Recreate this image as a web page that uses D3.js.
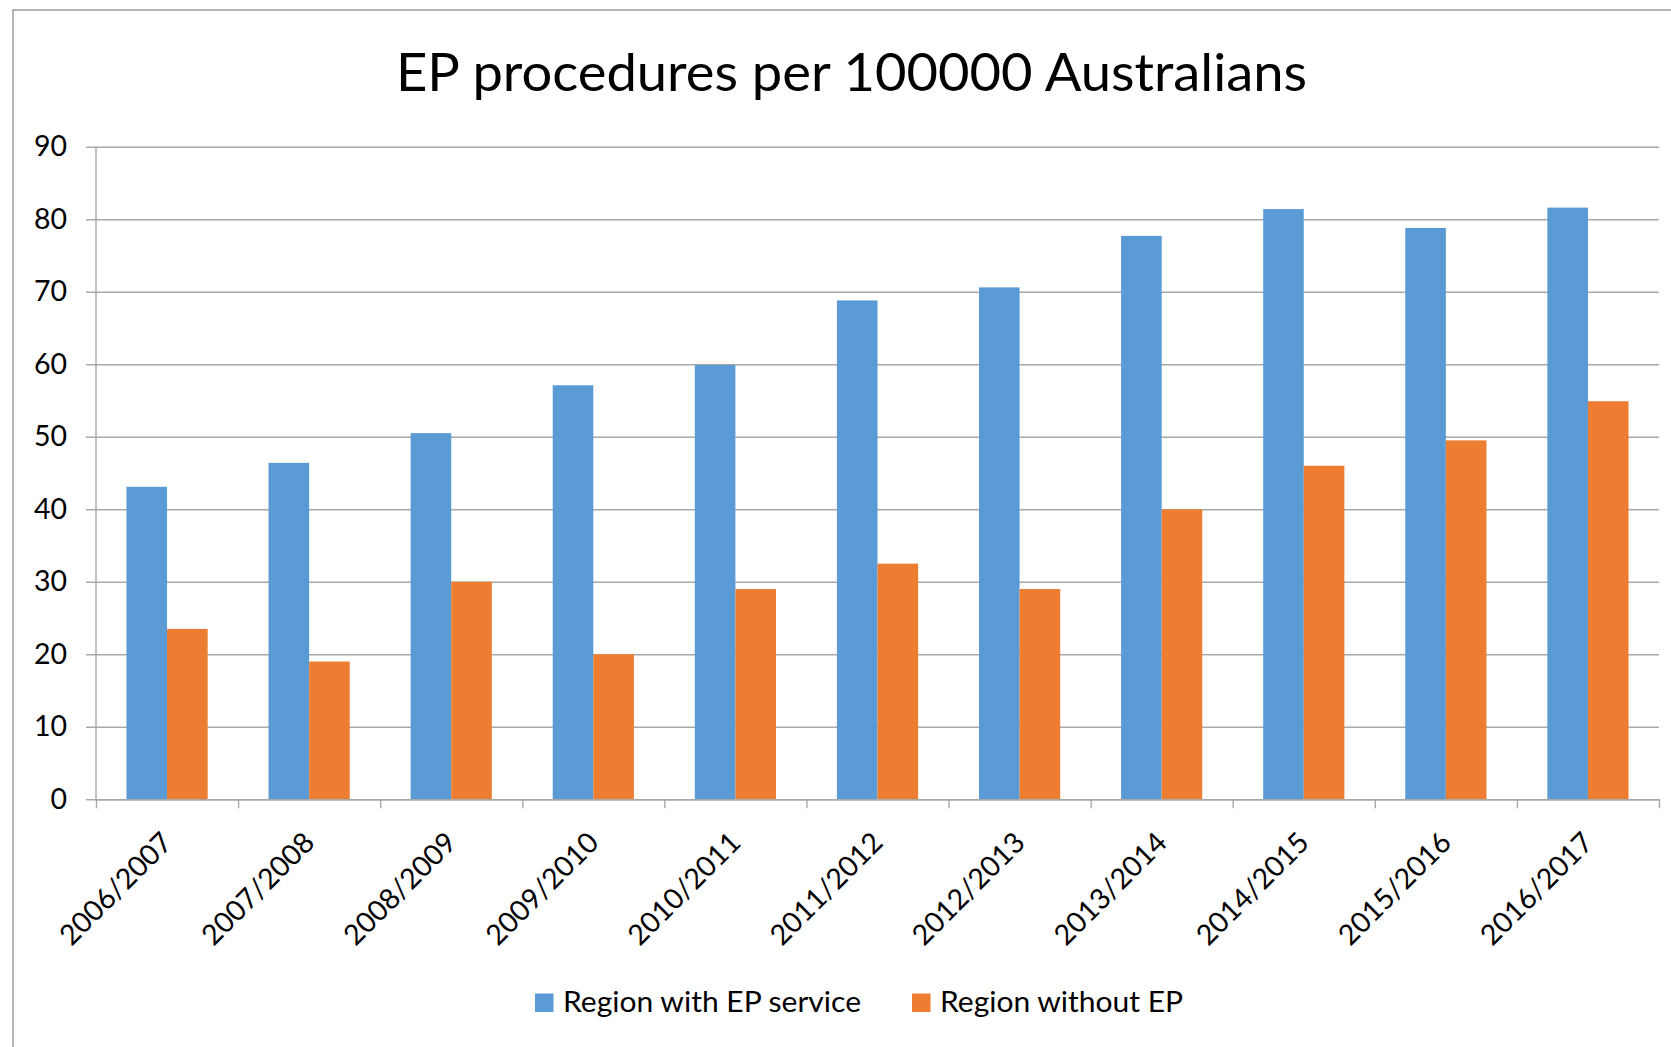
<!DOCTYPE html>
<html>
<head>
<meta charset="utf-8">
<script src="https://cdn.jsdelivr.net/npm/d3@7/dist/d3.min.js"></script>
<style>
  html, body { margin: 0; padding: 0; background: #fff; }
  svg { display: block; }
  text { font-family: Lato, "Open Sans", sans-serif; fill: #000; }
</style>
</head>
<body>
<svg id="chart" width="1671" height="1047"></svg>
<script>
// Financial years shown along the x axis
const categories = ["2006/2007", "2007/2008", "2008/2009", "2009/2010", "2010/2011",
  "2011/2012", "2012/2013", "2013/2014", "2014/2015", "2015/2016", "2016/2017"];

// EP procedures per 100000 people
const withEP    = [43.1, 46.4, 50.5, 57.1, 59.9, 68.8, 70.6, 77.7, 81.4, 78.8, 81.6];
const withoutEP = [23.5, 19.0, 30.0, 20.0, 29.0, 32.5, 29.0, 40.0, 46.0, 49.5, 54.9];

const seriesNames = ["Region with EP service", "Region without EP"];
const yTicks = [0, 10, 20, 30, 40, 50, 60, 70, 80, 90];
const titleText = "EP procedures per 100000 Australians";

const colors = ["#5B9BD5", "#ED7D31"];
const series = [withEP, withoutEP];

const svg = d3.select("#chart");
const W = 1671, H = 1047;

// chart-area frame (runs off the right and bottom edges)
svg.append("rect")
  .attr("x", 13).attr("y", 10)
  .attr("width", W + 20).attr("height", H + 20)
  .attr("fill", "#fff")
  .attr("stroke", "#8e8e8e").attr("stroke-width", 1.3);

const plot = { left: 96, right: 1659, top: 146.7, bottom: 799.3 };

const y = d3.scaleLinear().domain([0, 90]).range([plot.bottom, plot.top]);

// gap width 150% of a bar: band = 2 bars, gap = 1.5 bars
const x = d3.scaleBand().domain(categories)
  .range([plot.left, plot.right])
  .paddingInner(1.5 / 3.5).paddingOuter(0.75 / 3.5);
const xSub = d3.scaleBand().domain([0, 1]).range([0, x.bandwidth()]);

const gridColor = "#a8a8a8";
const tickFont = 28.5;

// horizontal gridlines with outward ticks and value labels
const yAxisG = svg.append("g")
  .attr("transform", `translate(${plot.left - 10},0)`)
  .call(d3.axisLeft(y).tickValues(yTicks)
    .tickSizeInner(-(plot.right - plot.left + 10)).tickSizeOuter(0)
    .tickPadding(19).tickFormat(d3.format("d")));
yAxisG.select(".domain").remove();
yAxisG.selectAll(".tick line").attr("stroke", gridColor).attr("stroke-width", 1.4);
yAxisG.selectAll(".tick text")
  .attr("font-size", tickFont).attr("font-family", "Lato, sans-serif").attr("fill", "#000");

// vertical axis line
svg.append("line")
  .attr("x1", plot.left).attr("x2", plot.left)
  .attr("y1", plot.top).attr("y2", plot.bottom)
  .attr("stroke", gridColor).attr("stroke-width", 1.4);

// bars
const groups = svg.append("g").selectAll("g")
  .data(categories)
  .join("g")
  .attr("transform", d => `translate(${x(d)},0)`);

groups.selectAll("rect")
  .data((d, i) => series.map((s, k) => ({ k, v: s[i] })))
  .join("rect")
  .attr("x", d => xSub(d.k))
  .attr("width", xSub.bandwidth())
  .attr("y", d => y(d.v))
  .attr("height", d => y(0) - y(d.v))
  .attr("fill", d => colors[d.k]);

// category boundary ticks along the bottom axis
const xEdge = d3.scaleLinear().domain([0, categories.length]).range([plot.left, plot.right]);
const xEdgeG = svg.append("g")
  .attr("transform", `translate(0,${plot.bottom})`)
  .call(d3.axisBottom(xEdge).tickValues(d3.range(categories.length + 1))
    .tickFormat("").tickSizeInner(9).tickSizeOuter(0));
xEdgeG.select(".domain").attr("stroke", gridColor).attr("stroke-width", 1.4);
xEdgeG.selectAll(".tick line").attr("stroke", gridColor).attr("stroke-width", 1.4);

// rotated category labels
const xLabG = svg.append("g")
  .attr("transform", `translate(0,${plot.bottom})`)
  .call(d3.axisBottom(x).tickSize(0).tickPadding(0));
xLabG.select(".domain").remove();
xLabG.selectAll(".tick text")
  .attr("font-size", tickFont).attr("font-family", "Lato, sans-serif").attr("fill", "#000")
  .attr("text-anchor", "end")
  .attr("x", 0).attr("y", 0).attr("dy", 0)
  .attr("transform", "translate(7,45) rotate(-45)");

// title
svg.append("text")
  .attr("x", 851.5).attr("y", 90.7)
  .attr("text-anchor", "middle")
  .attr("font-size", 52)
  .attr("textLength", 911).attr("lengthAdjust", "spacingAndGlyphs")
  .text(titleText);

// legend
const legendItems = [
  { sx: 535, tx: 563, tw: 298 },
  { sx: 912, tx: 940, tw: 243 }
];
const legend = svg.append("g");
legendItems.forEach((it, k) => {
  legend.append("rect")
    .attr("x", it.sx).attr("y", 993.5)
    .attr("width", 18.5).attr("height", 18.5)
    .attr("fill", colors[k]);
  legend.append("text")
    .attr("x", it.tx).attr("y", 1012)
    .attr("font-size", 29)
    .attr("textLength", it.tw).attr("lengthAdjust", "spacingAndGlyphs")
    .text(seriesNames[k]);
});
</script>
</body>
</html>
